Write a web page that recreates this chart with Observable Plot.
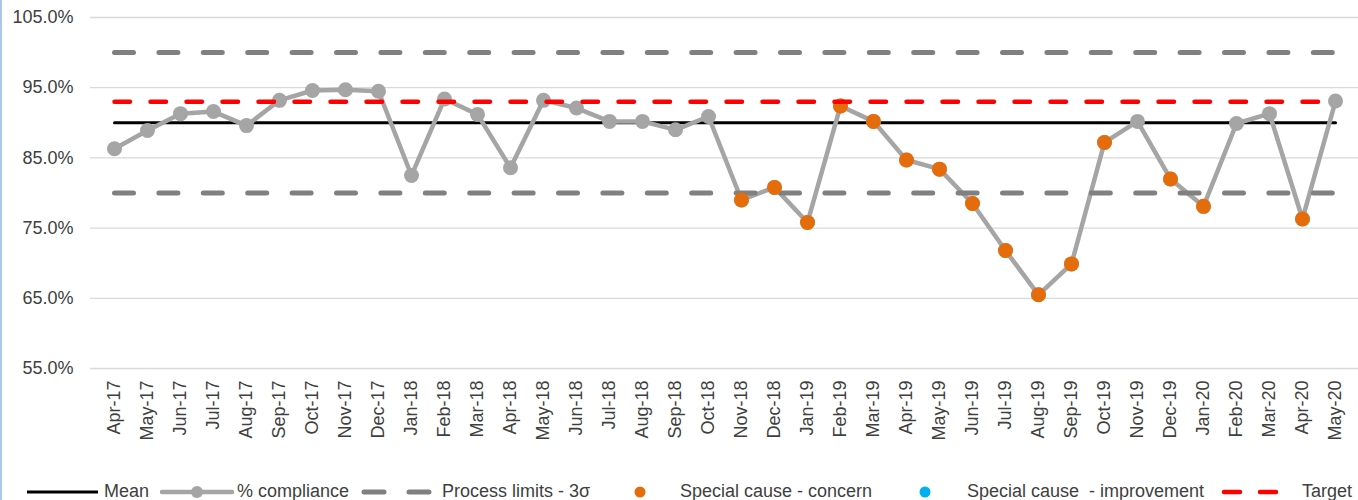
<!DOCTYPE html>
<html>
<head>
<meta charset="utf-8">
<script src="https://cdn.jsdelivr.net/npm/d3@7"></script>
<script src="https://cdn.jsdelivr.net/npm/@observablehq/plot@0.6"></script>
<style>
  html, body { margin: 0; padding: 0; background: #fff; }
  #wrap { position: relative; width: 1358px; height: 500px; overflow: hidden; font-family: "Liberation Sans", Arial, sans-serif; color: #404040; }
  #wrap .edge { position: absolute; left: 0; top: 0; width: 2px; height: 500px; background: #a9c8ea; }
  #chart { position: absolute; left: 0; top: 0; width: 1358px; }
  #legend { position: absolute; left: 0; top: 480px; width: 1358px; height: 22px; font-size: 18px; }
  #legend .it { position: absolute; top: 0; height: 22px; line-height: 22px; white-space: pre; }
  #legend svg { position: absolute; top: 0; }
</style>
</head>
<body>
<div id="wrap"><div class="edge"></div><div id="chart"></div><div id="legend"></div></div>
<script>
// ---- data ----
const months = ["Apr-17","May-17","Jun-17","Jul-17","Aug-17","Sep-17","Oct-17","Nov-17","Dec-17",
  "Jan-18","Feb-18","Mar-18","Apr-18","May-18","Jun-18","Jul-18","Aug-18","Sep-18","Oct-18","Nov-18","Dec-18",
  "Jan-19","Feb-19","Mar-19","Apr-19","May-19","Jun-19","Jul-19","Aug-19","Sep-19","Oct-19","Nov-19","Dec-19",
  "Jan-20","Feb-20","Mar-20","Apr-20","May-20"];
const compliance = [86.3, 88.9, 91.3, 91.6, 89.6, 93.2, 94.6, 94.7, 94.5,
  82.5, 93.4, 91.2, 83.6, 93.2, 92.1, 90.2, 90.2, 89.0, 90.9, 79.0, 80.8,
  75.8, 92.4, 90.2, 84.7, 83.4, 78.5, 71.8, 65.5, 69.9, 87.2, 90.2, 82.0,
  78.1, 89.9, 91.3, 76.3, 93.1];
const concernMonths = ["Nov-18","Dec-18","Jan-19","Feb-19","Mar-19","Apr-19","May-19","Jun-19","Jul-19",
  "Aug-19","Sep-19","Oct-19","Dec-19","Jan-20","Apr-20"];
const improvementMonths = [];
const meanValue = 90.0;
const upperLimit = 100.0;
const lowerLimit = 80.0;
const targetValue = 93.0;
const yTicks = [55, 65, 75, 85, 95, 105];

// ---- tables ----
const rows = months.map((m, i) => ({month: m, value: compliance[i]}));
const concern = rows.filter(d => concernMonths.includes(d.month));
const improvement = rows.filter(d => improvementMonths.includes(d.month));
const constLine = v => months.map(m => ({month: m, value: v}));

const chart = Plot.plot({
  width: 1358,
  height: 478,
  marginLeft: 90,
  marginRight: 0,
  marginTop: 17,
  marginBottom: 110,
  style: {fontFamily: "'Liberation Sans', Arial, sans-serif", fontSize: "18px", color: "#404040", background: "transparent"},
  x: {type: "point", domain: months, range: [106, 1343], padding: 0, label: null},
  y: {domain: [55, 105], label: null},
  marks: [
    Plot.gridY(yTicks, {stroke: "#d9d9d9", strokeOpacity: 1, strokeWidth: 1.3}),
    Plot.axisY(yTicks, {tickFormat: d => d.toFixed(1) + "%", tickSize: 0, tickPadding: 17, fontSize: 18, fill: "#404040"}),
    Plot.axisX({tickRotate: -90, tickSize: 0, tickPadding: 12, fontSize: 18, fill: "#404040"}),
    Plot.lineY(constLine(meanValue), {x: "month", y: "value", stroke: "#000", strokeWidth: 3}),
    Plot.lineY(rows, {x: "month", y: "value", stroke: "#a5a5a5", strokeWidth: 4.5}),
    Plot.dot(rows, {x: "month", y: "value", r: 7.5, fill: "#a5a5a5"}),
    Plot.lineY(constLine(upperLimit), {x: "month", y: "value", stroke: "#808080", strokeWidth: 5, strokeDasharray: "19 25.4", strokeLinecap: "round"}),
    Plot.lineY(constLine(lowerLimit), {x: "month", y: "value", stroke: "#808080", strokeWidth: 5, strokeDasharray: "19 25.4", strokeLinecap: "round"}),
    Plot.dot(concern, {x: "month", y: "value", r: 7.5, fill: "#e46c0a"}),
    Plot.dot(improvement, {x: "month", y: "value", r: 7.5, fill: "#00b0f0"}),
    Plot.lineY(constLine(targetValue), {x: "month", y: "value", stroke: "#ff0000", strokeWidth: 4.5, strokeDasharray: "15.5 20.5", strokeLinecap: "round"})
  ]
});
document.getElementById("chart").appendChild(chart);

// ---- legend ----
const legend = d3.select("#legend");
function sw(x, w, draw) {
  const s = legend.append("svg").attr("width", w).attr("height", 22).style("left", x + "px");
  draw(s);
}
function txt(x, t) { legend.append("div").attr("class", "it").style("left", x + "px").text(t); }

sw(27, 72, s => s.append("line").attr("x1", 0).attr("x2", 71).attr("y1", 12).attr("y2", 12).attr("stroke", "#000").attr("stroke-width", 3));
txt(104, "Mean");
sw(160, 74, s => {
  s.append("line").attr("x1", 2).attr("x2", 72).attr("y1", 12).attr("y2", 12).attr("stroke", "#a5a5a5").attr("stroke-width", 4.5).attr("stroke-linecap", "round");
  s.append("circle").attr("cx", 37).attr("cy", 12).attr("r", 6).attr("fill", "#a5a5a5");
});
txt(237, "% compliance");
sw(360, 76, s => s.append("line").attr("x1", 4).attr("x2", 72).attr("y1", 12).attr("y2", 12).attr("stroke", "#808080").attr("stroke-width", 5).attr("stroke-linecap", "round").attr("stroke-dasharray", "20 25"));
txt(442, "Process limits - 3σ");
sw(630, 20, s => s.append("circle").attr("cx", 10).attr("cy", 12).attr("r", 5.5).attr("fill", "#e46c0a"));
txt(680, "Special cause - concern");
sw(915, 20, s => s.append("circle").attr("cx", 10).attr("cy", 12).attr("r", 5.5).attr("fill", "#00b0f0"));
txt(967, "Special cause  - improvement");
sw(1218, 64, s => s.append("line").attr("x1", 6).attr("x2", 58).attr("y1", 12).attr("y2", 12).attr("stroke", "#ff0000").attr("stroke-width", 4.5).attr("stroke-linecap", "round").attr("stroke-dasharray", "16 20"));
txt(1302, "Target");
</script>
</body>
</html>
